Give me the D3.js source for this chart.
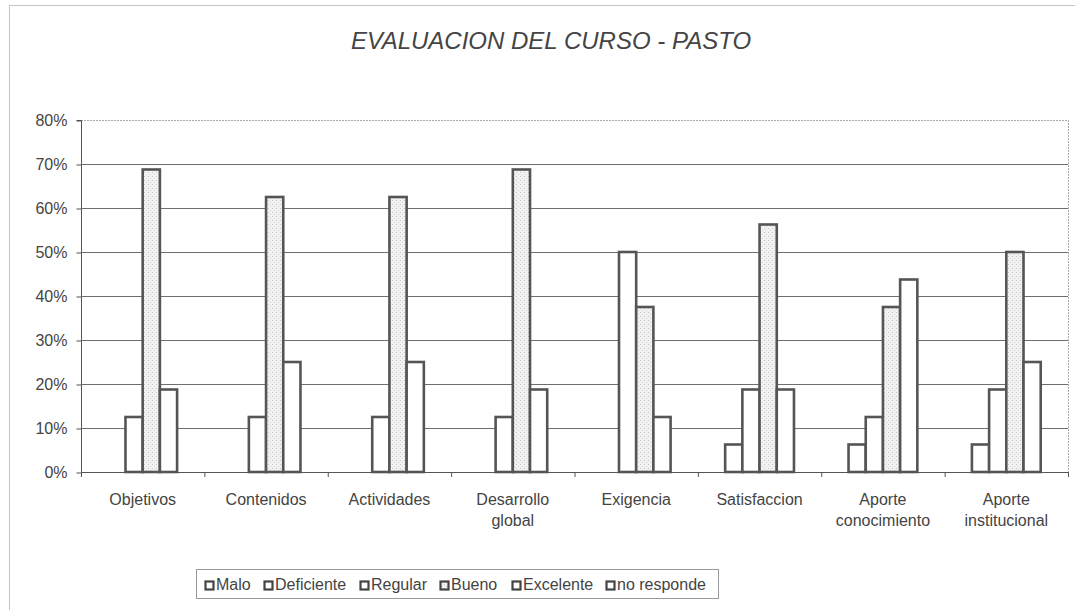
<!DOCTYPE html>
<html><head><meta charset="utf-8">
<script src="https://cdn.jsdelivr.net/npm/d3@7"></script>
<style>body{margin:0;background:#fff}svg{display:block}text{font-family:Arial,"Liberation Sans",sans-serif}</style>
</head><body>
<svg id="c" width="1075" height="610"></svg>
<script>
const categories = [["Objetivos"],["Contenidos"],["Actividades"],["Desarrollo","global"],["Exigencia"],["Satisfaccion"],["Aporte","conocimiento"],["Aporte","institucional"]];
const series = ["Malo","Deficiente","Regular","Bueno","Excelente","no responde"];
const malo       = [0,0,0,0,0,0,0,0];
const deficiente = [0,0,0,0,0,0.0625,0.0625,0.0625];
const regular    = [0.125,0.125,0.125,0.125,0.5,0.1875,0.125,0.1875];
const bueno      = [0.6875,0.625,0.625,0.6875,0.375,0.5625,0.375,0.5];
const excelente  = [0.1875,0.25,0.25,0.1875,0.125,0.1875,0.4375,0.25];
const noResponde = [0,0,0,0,0,0,0,0];
const yTicks = [0,0.1,0.2,0.3,0.4,0.5,0.6,0.7,0.8];
const values = [malo,deficiente,regular,bueno,excelente,noResponde];

const svg = d3.select("#c");
const defs = svg.append("defs");
const pat = defs.append("pattern").attr("id","stip").attr("patternUnits","userSpaceOnUse").attr("width",4).attr("height",4);
pat.append("rect").attr("width",4).attr("height",4).attr("fill","#f2f2f2");
pat.append("rect").attr("x",0).attr("y",0).attr("width",1).attr("height",1).attr("fill","#c4c4c4");
pat.append("rect").attr("x",2).attr("y",2).attr("width",1).attr("height",1).attr("fill","#d4d4d4");
const fills = ["#fff","#fff","#fff","url(#stip)","#fff","#fff"];

// outer frame
svg.append("line").attr("x1",9).attr("x2",1075).attr("y1",5.5).attr("y2",5.5).attr("stroke","#c4c4c4");
svg.append("line").attr("x1",9.5).attr("x2",9.5).attr("y1",5).attr("y2",610).attr("stroke","#c4c4c4");

const L=81, R=1068, T=120, B=472;
const x0 = d3.scaleBand().domain(d3.range(categories.length)).range([L,R]).padding(0);
const cw = x0.bandwidth();
const bw = 17.2;
const x1 = d3.scaleBand().domain(d3.range(series.length)).range([(cw-6*bw)/2,(cw+6*bw)/2]).padding(0);
const y = d3.scaleLinear().domain([0,0.8]).range([B,T]);

// title
svg.append("text").attr("x",551).attr("y",49).attr("text-anchor","middle").attr("font-size",24).attr("font-style","italic").attr("fill","#444").text("EVALUACION DEL CURSO - PASTO");

// gridlines
svg.append("g").selectAll("line").data(yTicks.filter(t=>t>0 && t<0.8)).join("line")
  .attr("x1",L).attr("x2",R).attr("y1",d=>Math.round(y(d))+0.5).attr("y2",d=>Math.round(y(d))+0.5)
  .attr("stroke","#6e6e6e").attr("stroke-width",1.1);
// top and right dotted border
svg.append("line").attr("x1",L).attr("x2",R).attr("y1",T+0.5).attr("y2",T+0.5).attr("stroke","#aaa").attr("stroke-dasharray","2,1");
svg.append("line").attr("x1",R+0.5).attr("x2",R+0.5).attr("y1",T).attr("y2",B).attr("stroke","#aaa").attr("stroke-dasharray","2,1");

// y axis
const ya = d3.axisLeft(y).tickValues(yTicks).tickFormat(d3.format(".0%")).tickSize(5).tickPadding(9);
const yg = svg.append("g").attr("transform",`translate(${L+0.5},0.5)`).call(ya);
yg.select(".domain").attr("stroke","#555").attr("d",`M-5,${T}H0V${B}`);
yg.selectAll(".tick line").attr("stroke","#555");
yg.selectAll("text").attr("font-size",16).attr("fill","#444").attr("font-family","Arial, Liberation Sans, sans-serif");

// bars
const g = svg.append("g");
categories.forEach((c,i)=>{
  series.forEach((s,j)=>{
    const v = values[j][i];
    if(v<=0) return;
    g.append("rect").attr("x",x0(i)+x1(j)).attr("y",y(v)).attr("width",x1.bandwidth()).attr("height",B-y(v))
      .attr("fill",fills[j]).attr("stroke","#555").attr("stroke-width",2.6);
  });
});

// x axis
svg.append("line").attr("x1",L).attr("x2",R).attr("y1",B+0.5).attr("y2",B+0.5).attr("stroke","#555").attr("stroke-width",1.2);
svg.append("g").selectAll("line").data(d3.range(categories.length+1)).join("line")
  .attr("x1",d=>L+d*cw+0.5).attr("x2",d=>L+d*cw+0.5).attr("y1",B).attr("y2",B+5).attr("stroke","#555");
const xl = svg.append("g");
categories.forEach((c,i)=>{
  const cx = x0(i)+cw/2;
  const t = xl.append("text").attr("x",cx).attr("y",B+33).attr("text-anchor","middle").attr("font-size",16).attr("fill","#444");
  c.forEach((line,k)=>t.append("tspan").attr("x",cx).attr("dy",k===0?0:21).text(line));
});

// legend
const lg = svg.append("g");
lg.append("rect").attr("x",196.5).attr("y",569.5).attr("width",522).attr("height",29).attr("fill","#fff").attr("stroke","#999");
const lx = [205,264,360,440,512,606];
series.forEach((s,j)=>{
  lg.append("rect").attr("x",lx[j]+0.5).attr("y",581.5).attr("width",8).attr("height",8).attr("fill",fills[j]).attr("stroke","#444").attr("stroke-width",2.2);
  lg.append("text").attr("x",lx[j]+11).attr("y",590).attr("font-size",16).attr("fill","#444").text(s);
});
</script>
</body></html>
